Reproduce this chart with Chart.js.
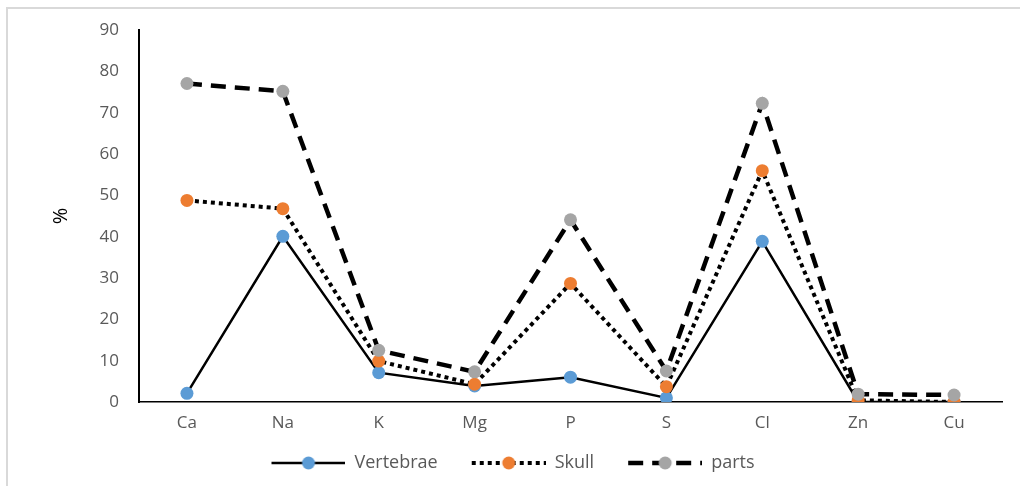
<!DOCTYPE html>
<html>
<head>
<meta charset="utf-8">
<script src="https://cdn.jsdelivr.net/npm/chart.js@4"></script>
<style>
  html, body { margin: 0; padding: 0; background: #fff; }
  #wrap { position: relative; width: 1020px; height: 486px; overflow: hidden; }
  #frame { position: absolute; left: 6px; top: 7px; right: -10px; bottom: -10px;
           border-left: 2px solid #d9d9d9; border-top: 2px solid #d9d9d9; }
  canvas { position: absolute; left: 0; top: 0; }
</style>
</head>
<body>
<div id="wrap">
  <div id="frame"></div>
  <canvas id="chart" width="1020" height="486"></canvas>
</div>
<script>
const categories = ["Ca", "Na", "K", "Mg", "P", "S", "Cl", "Zn", "Cu"];
const vertebrae = [2.1, 40.1, 7.1, 3.9, 6.0, 1.0, 38.9, 0, 0];
const skull = [48.8, 46.8, 9.9, 4.3, 28.7, 3.7, 56.0, 0.4, 0];
const parts = [77.1, 75.2, 12.5, 7.3, 44.1, 7.5, 72.3, 1.9, 1.7];
const yMin = 0, yMax = 90, yStep = 10;

const FONT = "'Open Sans', 'Liberation Sans', sans-serif";
const GREY_TEXT = "#595959";
const SAMPLE_GAP = 24;   // blank space before each legend sample
const SAMPLE_LEN = 74;

// little legend sample: line with a dot in the middle
function makeSample(dash, width, color){
    const c = document.createElement("canvas");
    c.width = SAMPLE_GAP + SAMPLE_LEN;
    c.height = 14;
    const ctx = c.getContext("2d");
    ctx.strokeStyle = "#000";
    ctx.lineWidth = width;
    ctx.setLineDash(dash);
    ctx.beginPath();
    ctx.moveTo(SAMPLE_GAP, 7);
    ctx.lineTo(SAMPLE_GAP + SAMPLE_LEN, 7);
    ctx.stroke();
    ctx.fillStyle = color;
    ctx.beginPath();
    ctx.arc(SAMPLE_GAP + SAMPLE_LEN / 2, 7, 6.5, 0, Math.PI * 2);
    ctx.fill();
    return c;
}

const series = [
    { label: "Vertebrae", data: vertebrae, color: "#5B9BD5", dash: [], width: 2.5, order: 3 },
    { label: "Skull", data: skull, color: "#ED7D31", dash: [4, 4], width: 4, order: 2 },
    { label: "parts", data: parts, color: "#A5A5A5", dash: [15, 9], width: 4.5, order: 1 },
];

const datasets = series.map((s) => ({
    label: s.label,
    data: s.data,
    order: s.order,
    borderColor: "#000",
    borderWidth: s.width,
    borderDash: s.dash,
    borderCapStyle: "butt",
    tension: 0,
    fill: false,
    pointRadius: 6.5,
    pointBorderWidth: 0,
    pointBackgroundColor: s.color,
    pointBorderColor: s.color,
}));

new Chart(document.getElementById("chart"), {
    type: "line",
    data: { labels: categories, datasets },
    options: {
        responsive: false,
        animation: false,
        layout: { padding: { left: 0, right: 18, top: 29, bottom: 4 } },
        plugins: {
            tooltip: { enabled: false },
            legend: {
                position: "bottom",
                labels: {
                    usePointStyle: true,
                    pointStyleWidth: SAMPLE_GAP + SAMPLE_LEN,
                    boxHeight: 14,
                    padding: 10,
                    color: GREY_TEXT,
                    font: { family: FONT, size: 18 },
                    generateLabels: (chart) => series.map((s, i) => ({
                        text: s.label,
                        datasetIndex: i,
                        pointStyle: makeSample(s.dash, s.width, s.color),
                        fillStyle: s.color,
                        strokeStyle: "#000",
                        lineWidth: 0,
                        fontColor: GREY_TEXT,
                        hidden: false,
                    })),
                },
            },
        },
        scales: {
            x: {
                offset: true,
                afterFit: (scale) => { scale.height = 42; },
                grid: { display: false, drawTicks: false },
                border: { display: true, color: "#000", width: 1.5 },
                ticks: { color: GREY_TEXT, padding: 11, font: { family: FONT, size: 17 } },
            },
            y: {
                min: yMin,
                max: yMax,
                afterFit: (scale) => { scale.width = 139; },
                grid: { display: false, drawTicks: false },
                border: { display: true, color: "#000", width: 2 },
                ticks: { stepSize: yStep, color: GREY_TEXT, padding: 20, font: { family: FONT, size: 17 } },
                title: {
                    display: true,
                    text: "%",
                    color: "#000",
                    padding: { top: 49, bottom: 0 },
                    font: { family: FONT, size: 20 },
                },
            },
        },
    },
});
</script>
</body>
</html>
